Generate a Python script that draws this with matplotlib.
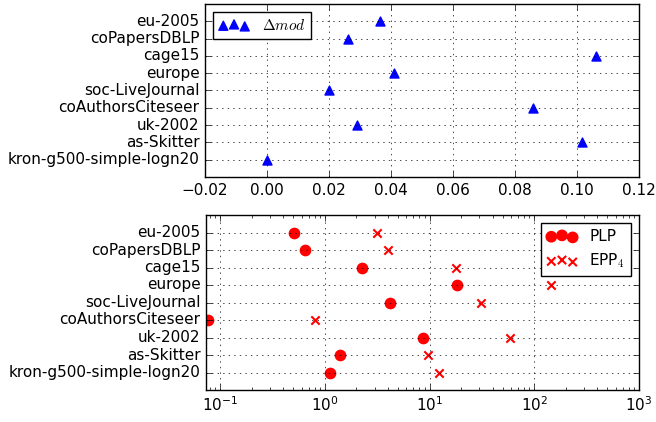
import matplotlib
matplotlib.use("Agg")
import matplotlib.pyplot as plt

plt.style.use("classic")
plt.rcParams['font.family'] = ['DejaVu Sans']
plt.rcParams['font.size'] = 11
plt.rcParams['figure.facecolor'] = 'white'

graphs = ["kron-g500-simple-logn20", "as-Skitter", "uk-2002", "coAuthorsCiteseer",
          "soc-LiveJournal", "europe", "cage15", "coPapersDBLP", "eu-2005"]
delta_mod = [0.0, 0.1015, 0.0291, 0.0857, 0.0200, 0.0410, 0.1062, 0.0261, 0.0363]
plp_time = [1.13, 1.39, 8.64, 0.0773, 4.21, 18.2, 2.27, 0.653, 0.509]
epp4_time = [12.4, 9.78, 58.6, 0.814, 30.9, 144, 18.1, 4.03, 3.16]

fig = plt.figure(figsize=(6.56, 4.22), dpi=100)
W, H = 656.0, 422.0
ax1 = fig.add_axes([205 / W, (H - 177) / H, 434 / W, 173 / H])
ax2 = fig.add_axes([206 / W, (H - 390) / H, 433 / W, 175 / H])

ypos = list(range(len(graphs)))

# grid drawn over the markers, like the old matplotlib default
ax1.scatter(delta_mod, ypos, marker='^', s=42, color='blue', edgecolor='blue',
            label=r'$\Delta mod$')
ax1.set_xlim(-0.02, 0.12)
ax1.set_ylim(-1, len(graphs))
ax1.set_yticks(ypos)
ax1.set_yticklabels(graphs)
ax1.grid(True, linestyle=':', color='k')
ax1.legend(loc='upper left', scatterpoints=3, fontsize=11)

ax2.scatter(plp_time, ypos, marker='o', s=55, color='red', edgecolor='red',
            label='PLP')
ax2.scatter(epp4_time, ypos, marker='x', s=36, color='red', linewidths=1.5,
            label=r'EPP$_4$')
ax2.set_xscale('log')
ax2.set_xlim(0.0735, 1000)
ax2.set_ylim(-1, len(graphs))
ax2.set_yticks(ypos)
ax2.set_yticklabels(graphs)
ax2.grid(True, linestyle=':', color='k')
ax2.legend(loc='upper right', scatterpoints=3, fontsize=11)

fig.savefig("out.png", dpi=100, facecolor='white')
